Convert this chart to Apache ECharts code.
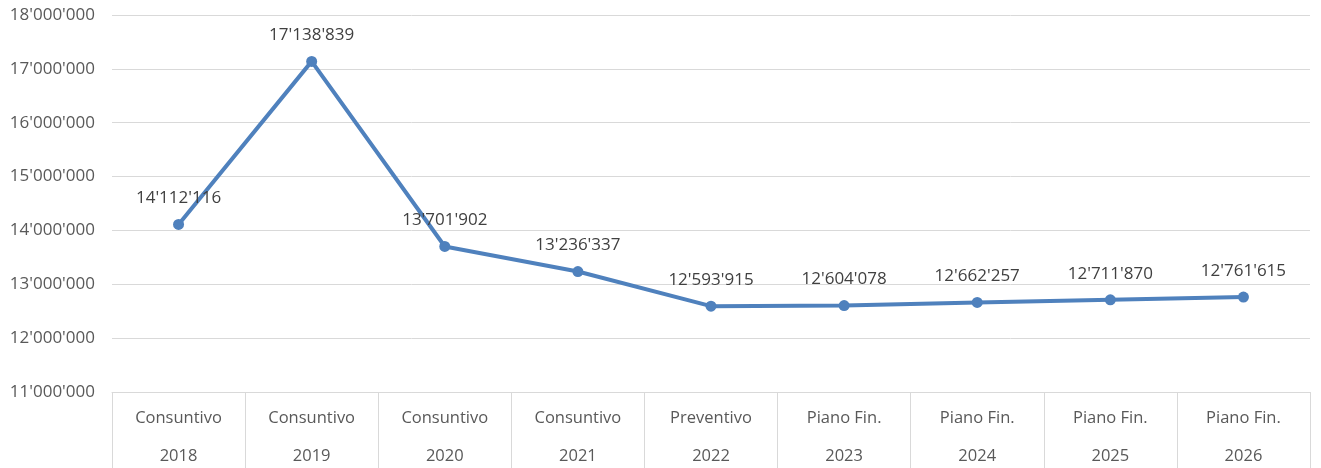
<!DOCTYPE html>
<html>
<head>
<meta charset="utf-8">
<script src="https://cdn.jsdelivr.net/npm/echarts@6/dist/echarts.min.js"></script>
<style>html,body{margin:0;padding:0;background:#fff}#c{width:1321px;height:468px}</style>
</head>
<body>
<div id="c"></div>
<script>
var categories = ["Consuntivo\n2018","Consuntivo\n2019","Consuntivo\n2020","Consuntivo\n2021","Preventivo\n2022","Piano Fin.\n2023","Piano Fin.\n2024","Piano Fin.\n2025","Piano Fin.\n2026"];
var values = [14112116,17138839,13701902,13236337,12593915,12604078,12662257,12711870,12761615];
var yMin = 11000000, yMax = 18000000, yStep = 1000000;

function fmt(v){return String(Math.round(v)).replace(/\B(?=(\d{3})+(?!\d))/g,"'");}

var chart = echarts.init(document.getElementById('c'));
chart.setOption({
  animation:false,
  textStyle:{fontFamily:'Open Sans'},
  grid:{left:112,right:11,top:15,bottom:76,containLabel:false,outerBoundsMode:'none'},
  xAxis:{
    type:'category',data:categories,boundaryGap:true,
    axisLine:{lineStyle:{color:'#d9d9d9',width:1}},
    axisTick:{show:true,length:80,lineStyle:{color:'#d9d9d9'}},
    axisLabel:{color:'#595959',fontSize:16.5,lineHeight:38,margin:7,fontFamily:'Open Sans'}
  },
  yAxis:{
    type:'value',min:yMin,max:yMax,interval:yStep,
    axisLine:{show:false},axisTick:{show:false},
    splitLine:{lineStyle:{color:'#d9d9d9'}},
    axisLabel:{color:'#595959',fontSize:17,margin:17,formatter:fmt,fontFamily:'Open Sans'}
  },
  series:[{
    type:'line',data:values,
    lineStyle:{color:'#4f81bd',width:4},
    itemStyle:{color:'#4f81bd'},
    symbol:'circle',symbolSize:11,
    label:{show:true,position:'top',distance:12,color:'#404040',fontSize:17,fontFamily:'Open Sans',formatter:function(p){return fmt(p.value);}}
  }]
});
</script>
</body>
</html>
